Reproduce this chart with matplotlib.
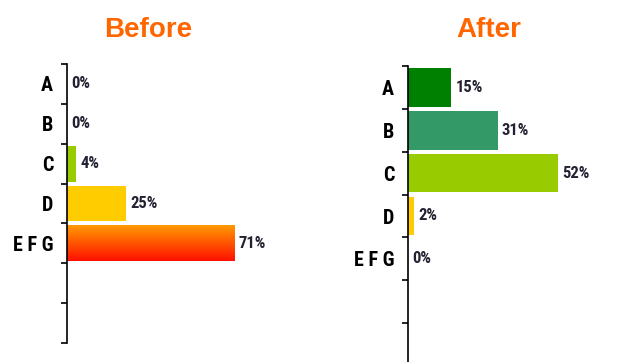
import numpy as np
import matplotlib.pyplot as plt
from matplotlib.colors import LinearSegmentedColormap

categories = ['A', 'B', 'C', 'D', 'E F G']
before_values = [0, 0, 4, 25, 71]
after_values = [15, 31, 52, 2, 0]
before_colors = ['#99CC00', '#99CC00', '#99CC00', '#FFCC00', '#FF8000']
after_colors = ['#008000', '#339966', '#99CC00', '#FFCC00', '#FF8000']

n_slots = 7
narrow = ['Roboto Condensed', 'Saira Condensed', 'Liberation Sans', 'DejaVu Sans']

fig = plt.figure(figsize=(6.28, 3.62), dpi=100)
ax1 = fig.add_axes([67 / 628, 19 / 362, 236 / 628, 279 / 362])
ax2 = fig.add_axes([408 / 628, -4 / 362, 217 / 628, 300 / 362])


def draw_panel(ax, values, colors, xmax, gradient=False):
    pos = np.arange(len(values)) + 0.5
    bars = ax.barh(pos, values, height=0.9, color=colors)
    ax.set_xlim(0, xmax)
    ax.set_ylim(n_slots, 0)
    for s in ['top', 'right', 'bottom']:
        ax.spines[s].set_visible(False)
    ax.spines['left'].set_linewidth(1.2)
    ax.set_xticks([])
    ax.set_yticks(np.arange(n_slots + 1))
    ax.set_yticklabels([])
    ax.tick_params(axis='y', which='major', direction='out', length=4, width=1.2)
    ax.set_yticks(pos, minor=True)
    ax.set_yticklabels(categories, minor=True, fontfamily=narrow,
                       fontweight='bold', fontsize=14.5)
    ax.tick_params(axis='y', which='minor', length=0, pad=10)
    for b, v in zip(bars, values):
        ax.annotate(f'{v}%', (b.get_width(), b.get_y() + b.get_height() / 2),
                    xytext=(3, 0), textcoords='offset points', va='center',
                    ha='left', fontsize=12, fontweight='bold',
                    family=narrow, color='#222233')
    if gradient:
        b = bars[-1]
        cmap = LinearSegmentedColormap.from_list('og', ['#FF9900', '#FF1100'])
        grad = np.linspace(0, 1, 64).reshape(-1, 1)
        b.set_visible(False)
        ax.imshow(grad, cmap=cmap, aspect='auto',
                  extent=(b.get_x(), b.get_x() + b.get_width(),
                          b.get_y() + b.get_height(), b.get_y()), zorder=2)
        ax.set_xlim(0, xmax)
        ax.set_ylim(n_slots, 0)


draw_panel(ax1, before_values, before_colors, 100, gradient=True)
draw_panel(ax2, after_values, after_colors, 75)

fig.text(148 / 628, 1 - 30 / 362, 'Before', ha='center', va='center',
         fontsize=20, fontweight='bold', color='#FF6600', family='Liberation Sans')
fig.text(489 / 628, 1 - 30 / 362, 'After', ha='center', va='center',
         fontsize=20, fontweight='bold', color='#FF6600', family='Liberation Sans')

fig.savefig('out.png', dpi=100)
